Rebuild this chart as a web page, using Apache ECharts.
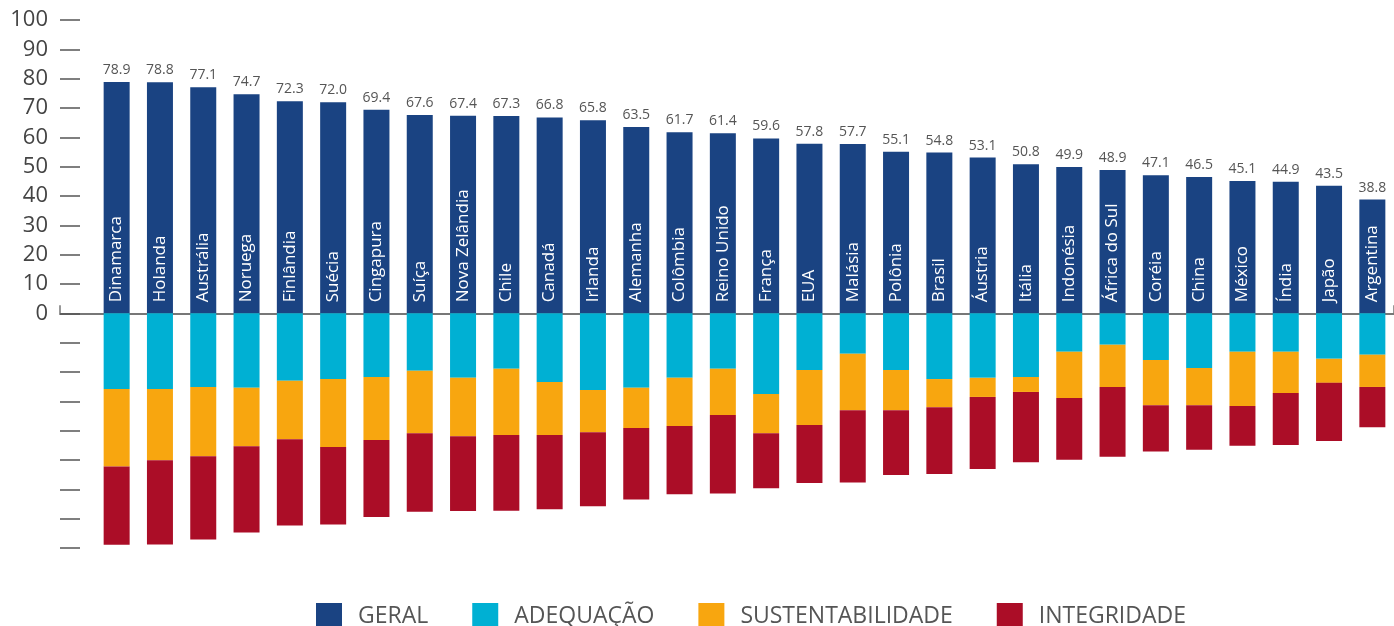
<!DOCTYPE html>
<html>
<head>
<meta charset="utf-8">
<script src="https://cdn.jsdelivr.net/npm/echarts@6/dist/echarts.min.js"></script>
<style>
  html, body { margin: 0; padding: 0; background: #fff; }
  #chart { width: 1394px; height: 626px; }
</style>
</head>
<body>
<div id="chart"></div>
<script>
var countries = ['Dinamarca','Holanda','Austrália','Noruega','Finlândia','Suécia','Cingapura','Suíça','Nova Zelândia','Chile',
  'Canadá','Irlanda','Alemanha','Colômbia','Reino Unido','França','EUA','Malásia','Polônia','Brasil',
  'Áustria','Itália','Indonésia','África do Sul','Coréia','China','México','Índia','Japão','Argentina'];

var geral = [78.9, 78.8, 77.1, 74.7, 72.3, 72.0, 69.4, 67.6, 67.4, 67.3,
  66.8, 65.8, 63.5, 61.7, 61.4, 59.6, 57.8, 57.7, 55.1, 54.8,
  53.1, 50.8, 49.9, 48.9, 47.1, 46.5, 45.1, 44.9, 43.5, 38.8];

// weighted sub-indices, drawn downward from zero
var adequacao = [25.8, 25.8, 25.1, 25.4, 23.0, 22.4, 21.7, 19.6, 22.0, 18.9,
  23.4, 26.1, 25.4, 22.0, 18.9, 27.5, 19.3, 13.8, 19.3, 22.4,
  22.0, 21.7, 13.1, 10.7, 15.9, 18.6, 13.1, 13.1, 15.5, 14.1];
var sustentabilidade = [26.4, 24.3, 23.6, 19.9, 19.9, 23.2, 21.5, 21.3, 19.9, 22.6,
  18.1, 14.4, 13.7, 16.4, 15.8, 13.4, 18.8, 19.2, 13.7, 9.6,
  6.5, 5.1, 15.8, 14.4, 15.4, 12.7, 18.5, 14.1, 8.2, 11.0];
var integridade = [26.7, 28.7, 28.4, 29.4, 29.4, 26.4, 26.2, 26.7, 25.5, 25.8,
  25.3, 25.3, 24.4, 23.3, 26.7, 18.7, 19.7, 24.7, 22.1, 22.8,
  24.6, 24.0, 21.0, 23.8, 15.8, 15.2, 13.5, 17.7, 19.8, 13.7];

var yTicks = { min: -80, max: 100, step: 10 };

var font = 'Open Sans';
var chart = echarts.init(document.getElementById('chart'));

function down(arr) { return arr.map(function (v) { return -v; }); }

option = {
    textStyle: { fontFamily: font },
    color: ['#1a4382', '#00b0d3', '#f8a60f', '#ab0d27'],
    legend: {
        left: 316,
        top: 603,
        padding: 0,
        itemWidth: 26,
        itemHeight: 26,
        itemGap: 44,
        icon: 'rect',
        textStyle: { fontSize: 23, color: '#555', fontFamily: font, padding: [0, 0, 0, 11] },
        data: ['GERAL', 'ADEQUAÇÃO', 'SUSTENTABILIDADE', 'INTEGRIDADE']
    },
    grid: [
        { left: 95, right: 0, top: 20, bottom: 78 },
        { left: 60, right: 0, top: 20, bottom: 78 }
    ],
    xAxis: [
        {
            type: 'category',
            gridIndex: 0,
            data: countries,
            show: false
        },
        {
            type: 'value',
            gridIndex: 1,
            min: 0, max: 1, interval: 1,
            axisLine: { show: true, onZero: true, lineStyle: { color: '#777', width: 2 } },
            axisTick: { show: true, inside: true, length: 8, lineStyle: { color: '#777', width: 1.5 } },
            axisLabel: { show: false },
            splitLine: { show: false }
        }
    ],
    yAxis: [
        {
            type: 'value',
            gridIndex: 0,
            min: yTicks.min, max: yTicks.max, interval: yTicks.step,
            show: false
        },
        {
            type: 'value',
            gridIndex: 1,
            min: yTicks.min, max: yTicks.max, interval: yTicks.step,
            axisLine: { show: false },
            axisTick: { show: true, inside: true, length: 20, lineStyle: { color: '#555', width: 1.5 } },
            splitLine: { show: false },
            axisLabel: {
                margin: 12,
                fontSize: 22,
                color: '#444',
                fontFamily: font,
                formatter: function (v) { return v >= 0 ? String(v) : ''; }
            }
        }
    ],
    series: [
        {
            name: 'GERAL', type: 'bar', stack: 'total', barWidth: 26,
            data: geral,
            label: {
                show: true,
                position: 'insideBottom',
                rotate: 90,
                align: 'left',
                verticalAlign: 'middle',
                distance: 11,
                fontSize: 17,
                color: '#fff',
                fontFamily: font,
                formatter: function (p) { return p.name; }
            }
        },
        { name: 'ADEQUAÇÃO', type: 'bar', stack: 'total', barWidth: 26, data: down(adequacao) },
        { name: 'SUSTENTABILIDADE', type: 'bar', stack: 'total', barWidth: 26, data: down(sustentabilidade) },
        { name: 'INTEGRIDADE', type: 'bar', stack: 'total', barWidth: 26, data: down(integridade) },
        {
            // transparent twin of GERAL that carries the value labels
            name: 'valor', type: 'bar', stack: 'valor', barWidth: 26, barGap: '-100%',
            data: geral,
            itemStyle: { color: 'rgba(0,0,0,0)' },
            silent: true,
            label: {
                show: true, position: 'top', distance: 5,
                fontSize: 14, color: '#555', fontFamily: font,
                formatter: function (p) { return p.value.toFixed(1); }
            }
        }
    ]
};

chart.setOption(option);

window.addEventListener('resize', function () {
    chart.resize();
});
</script>
</body>
</html>
